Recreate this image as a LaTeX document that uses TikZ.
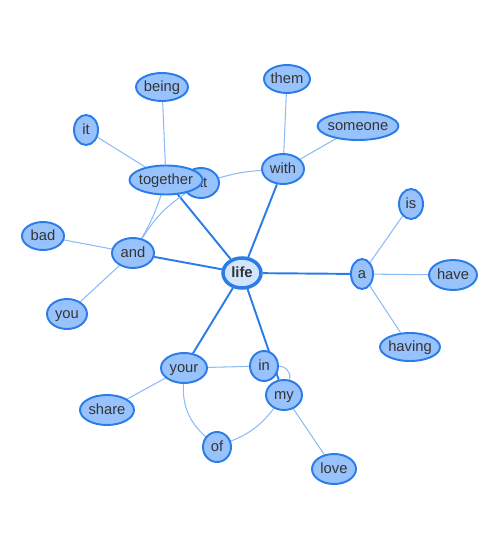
\documentclass[tikz,border=0pt]{standalone}
\usepackage{fontspec}
\setmainfont{Liberation Sans}
\usepackage{tikz}
\usetikzlibrary{shapes.geometric,backgrounds}

\definecolor{nodeline}{HTML}{2B7CE9}
\definecolor{nodefill}{HTML}{97C2FC}
\definecolor{hubfill}{HTML}{D2E5FF}
\definecolor{weakedge}{HTML}{8DBBF8}
\definecolor{wordtext}{HTML}{343434}

\begin{document}
\begin{tikzpicture}[x=0.02cm,y=-0.02cm,font=\fontsize{8.4}{10}\selectfont,
  word/.style={ellipse,draw=nodeline,fill=nodefill,line width=1.1pt,inner xsep=-1pt,inner ysep=0pt,
    text height=6.4pt,text depth=1.2pt,text=wordtext},
  hub/.style={word,fill=hubfill,line width=2pt,font=\fontsize{8.4}{10}\selectfont\bfseries},
  weak/.style={draw=weakedge,line width=0.6pt},
  strong/.style={draw=nodeline,line width=1.1pt}]
\useasboundingbox (0,0) rectangle (500,550);
\node[hub,minimum width=0.76cm,minimum height=0.6cm] (life) at (242,273) {life};
\foreach \n/\x/\y/\w/\h in {a/362/274/22/30,is/411/204/24/30,have/453/275/48/30,having/410/347/60/28,
  with/283/169/42/30,them/287/79/46/28,someone/358/126/76/28,at/201/183/36/30,together/166/180/73/29,
  being/162/87/52/28,it/86/130/24/30,and/133/253/42/30,bad/43/236/42/28,you/67/314/40/30,
  your/184/368/46/30,in/264/366/28/30,my/284/395/36/30,of/217/447/28/30,share/107/410/54/30,love/334/469/44/30}
  \node[word,minimum width=\w*0.02cm,minimum height=\h*0.02cm] (\n) at (\x,\y) {\n};
% links, kept under the words
\begin{scope}[on background layer]
\draw[strong] (life) -- (a);
\draw[strong] (life) -- (with);
\draw[strong] (life) -- (together);
\draw[strong] (life) -- (and);
\draw[strong] (life) -- (your);
\draw[strong] (life) -- (my);
\draw[weak] (a) -- (is);
\draw[weak] (a) -- (have);
\draw[weak] (a) -- (having);
\draw[weak] (with) -- (them);
\draw[weak] (with) -- (someone);
\draw[weak] (with) to[bend right=6] (at);
\draw[weak] (together) -- (being);
\draw[weak] (together) -- (it);
\draw[weak] (together) to[bend left=6] (and);
\draw[weak] (at) to[bend right=12] (and);
\draw[weak] (and) -- (bad);
\draw[weak] (and) -- (you);
\draw[weak] (your) -- (share);
\draw[weak] (your) -- (in);
\draw[weak] (your) to[bend right=25] (of);
\draw[weak] (my) to[bend left=15] (of);
\draw[weak] (in) to[bend left=55] (my);
\draw[weak] (my) -- (love);
\end{scope}
\end{tikzpicture}
\end{document}
